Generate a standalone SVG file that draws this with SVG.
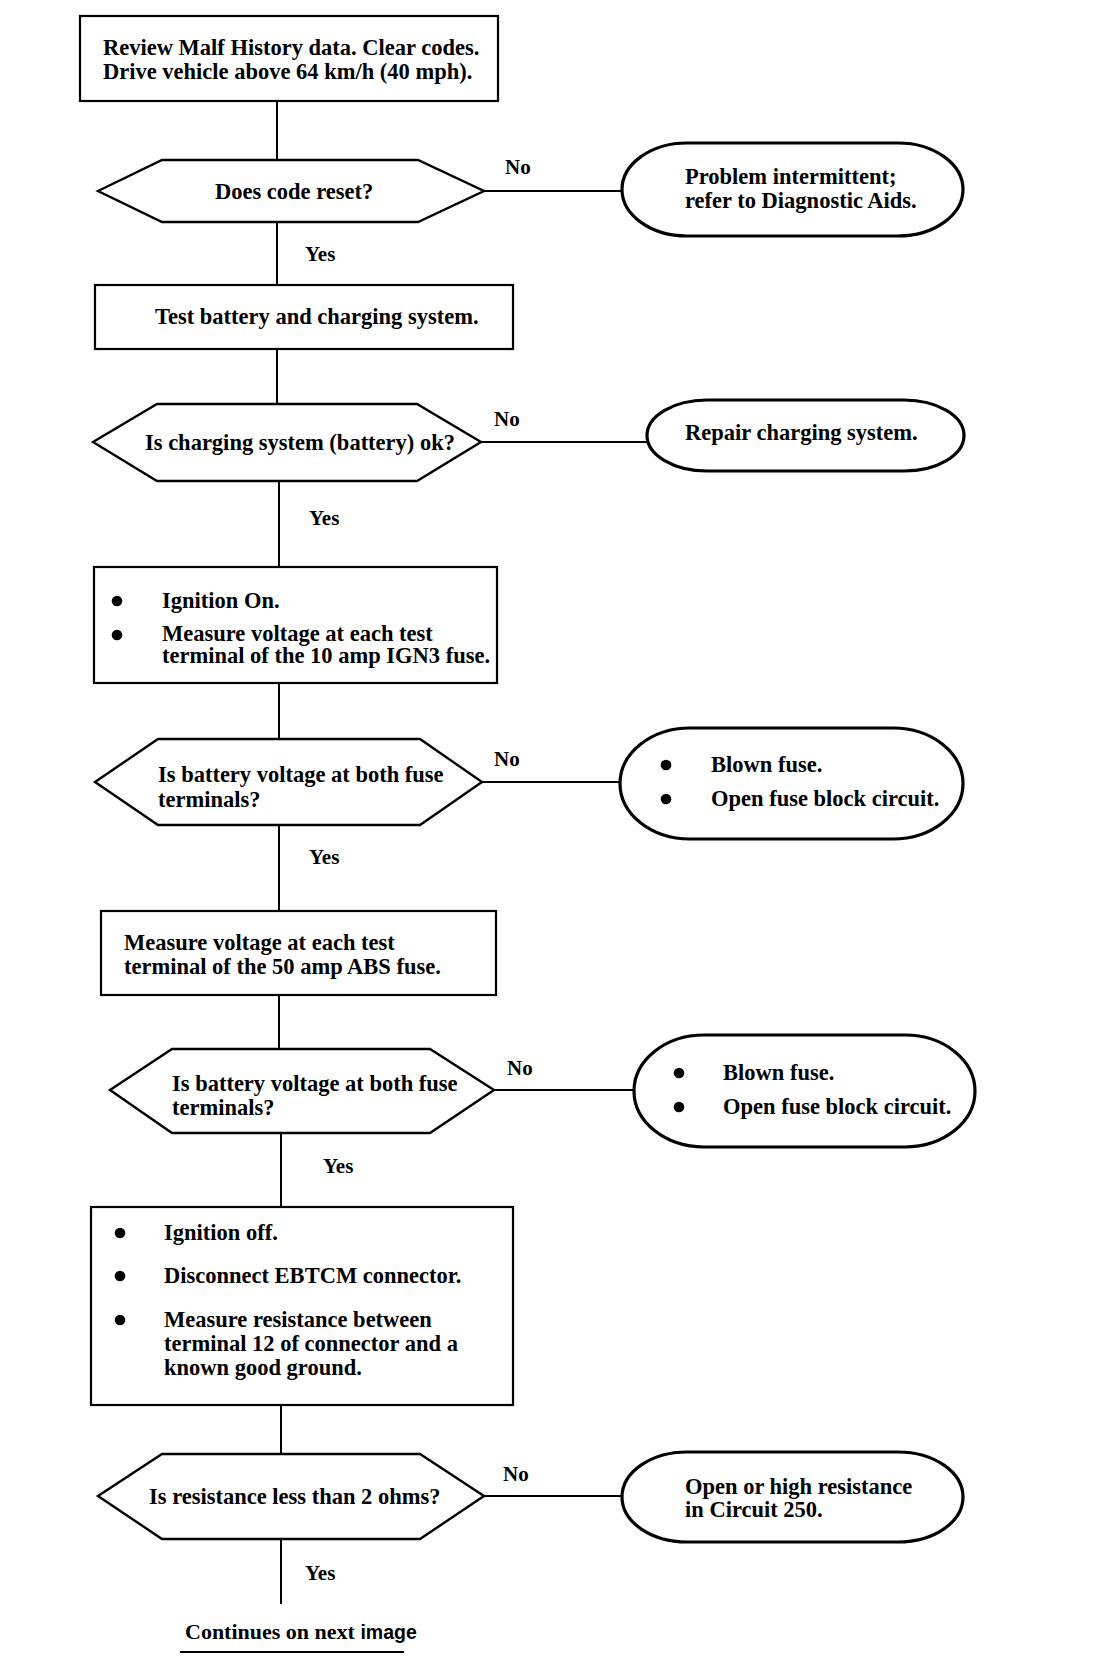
<svg xmlns="http://www.w3.org/2000/svg" width="1120" height="1668" viewBox="0 0 1120 1668">
<style>
  .box{fill:#fff;stroke:#000;stroke-width:2.2}
  .hex{fill:#fff;stroke:#000;stroke-width:2.4;stroke-linejoin:miter}
  .oval{fill:#fff;stroke:#000;stroke-width:3.2}
  .ln{stroke:#000;stroke-width:2;fill:none}
  text{font-family:"Liberation Serif","Times New Roman",serif;font-size:22.5px;font-weight:bold;fill:#000}
  .lbl{font-size:21px}
  .sans{font-family:"Liberation Sans",Arial,sans-serif;font-size:19.5px}
  .dot{fill:#000}
</style>
<rect width="1120" height="1668" fill="#fff"/>
<g id="connectors">
  <line class="ln" x1="277" y1="101" x2="277" y2="160"/>
  <line class="ln" x1="484" y1="191" x2="622" y2="191"/>
  <line class="ln" x1="277" y1="222" x2="277" y2="285"/>
  <line class="ln" x1="277" y1="349" x2="277" y2="404"/>
  <line class="ln" x1="481" y1="442" x2="647" y2="442"/>
  <line class="ln" x1="279" y1="481" x2="279" y2="567"/>
  <line class="ln" x1="279" y1="683" x2="279" y2="739"/>
  <line class="ln" x1="482" y1="782" x2="620" y2="782"/>
  <line class="ln" x1="279" y1="825" x2="279" y2="911"/>
  <line class="ln" x1="279" y1="995" x2="279" y2="1049"/>
  <line class="ln" x1="494" y1="1090" x2="634" y2="1090"/>
  <line class="ln" x1="281" y1="1133" x2="281" y2="1207"/>
  <line class="ln" x1="281" y1="1405" x2="281" y2="1454"/>
  <line class="ln" x1="484" y1="1496" x2="622" y2="1496"/>
  <line class="ln" x1="281" y1="1539" x2="281" y2="1604"/>
  <text class="lbl" x="505" y="174">No</text>
  <text class="lbl" x="305" y="261">Yes</text>
  <text class="lbl" x="494" y="426">No</text>
  <text class="lbl" x="309" y="525">Yes</text>
  <text class="lbl" x="494" y="766">No</text>
  <text class="lbl" x="309" y="864">Yes</text>
  <text class="lbl" x="507" y="1075">No</text>
  <text class="lbl" x="323" y="1173">Yes</text>
  <text class="lbl" x="503" y="1481">No</text>
  <text class="lbl" x="305" y="1580">Yes</text>
</g>
<g id="n1">
  <rect class="box" x="80" y="16" width="418" height="85"/>
  <text x="103" y="55">Review Malf History data. Clear codes.</text>
  <text x="103" y="79">Drive vehicle above 64 km/h (40 mph).</text>
</g>
<g id="d1">
  <polygon class="hex" points="98,191 162,160 418,160 484,191 418,222 162,222"/>
  <text x="215" y="199">Does code reset?</text>
</g>
<g id="t1">
  <rect class="oval" x="622" y="143" width="341" height="93" rx="65" ry="46.5"/>
  <text x="685" y="184">Problem intermittent;</text>
  <text x="685" y="208">refer to Diagnostic Aids.</text>
</g>
<g id="n2">
  <rect class="box" x="95" y="285" width="418" height="64"/>
  <text x="155" y="324">Test battery and charging system.</text>
</g>
<g id="d2">
  <polygon class="hex" points="93,442 157,404 417,404 481,442 417,481 157,481"/>
  <text x="145" y="450">Is charging system (battery) ok?</text>
</g>
<g id="t2">
  <rect class="oval" x="647" y="400" width="317" height="71" rx="60" ry="35.5"/>
  <text x="685" y="440">Repair charging system.</text>
</g>
<g id="n3">
  <rect class="box" x="94" y="567" width="403" height="116"/>
  <circle class="dot" cx="117" cy="601" r="5.3"/>
  <circle class="dot" cx="117" cy="635" r="5.3"/>
  <text x="162" y="608">Ignition On.</text>
  <text x="162" y="641">Measure voltage at each test</text>
  <text x="162" y="663">terminal of the 10 amp IGN3 fuse.</text>
</g>
<g id="d3">
  <polygon class="hex" points="95,782 158,739 420,739 482,782 420,825 158,825"/>
  <text x="158" y="782">Is battery voltage at both fuse</text>
  <text x="158" y="807">terminals?</text>
</g>
<g id="t3">
  <rect class="oval" x="620" y="728" width="343" height="111" rx="70" ry="55.5"/>
  <circle class="dot" cx="666" cy="765" r="5.3"/>
  <circle class="dot" cx="666" cy="799" r="5.3"/>
  <text x="711" y="772">Blown fuse.</text>
  <text x="711" y="806">Open fuse block circuit.</text>
</g>
<g id="n4">
  <rect class="box" x="101" y="911" width="395" height="84"/>
  <text x="124" y="950">Measure voltage at each test</text>
  <text x="124" y="974">terminal of the 50 amp ABS fuse.</text>
</g>
<g id="d4">
  <polygon class="hex" points="110,1090 172,1049 430,1049 494,1090 430,1133 172,1133"/>
  <text x="172" y="1091">Is battery voltage at both fuse</text>
  <text x="172" y="1115">terminals?</text>
</g>
<g id="t4">
  <rect class="oval" x="634" y="1035" width="341" height="112" rx="70" ry="56"/>
  <circle class="dot" cx="679" cy="1073" r="5.3"/>
  <circle class="dot" cx="679" cy="1107" r="5.3"/>
  <text x="723" y="1080">Blown fuse.</text>
  <text x="723" y="1114">Open fuse block circuit.</text>
</g>
<g id="n5">
  <rect class="box" x="91" y="1207" width="422" height="198"/>
  <circle class="dot" cx="120" cy="1233" r="5.3"/>
  <circle class="dot" cx="120" cy="1276" r="5.3"/>
  <circle class="dot" cx="120" cy="1320" r="5.3"/>
  <text x="164" y="1240">Ignition off.</text>
  <text x="164" y="1283">Disconnect EBTCM connector.</text>
  <text x="164" y="1327">Measure resistance between</text>
  <text x="164" y="1351">terminal 12 of connector and a</text>
  <text x="164" y="1375">known good ground.</text>
</g>
<g id="d5">
  <polygon class="hex" points="98,1496 162,1454 420,1454 484,1496 420,1539 162,1539"/>
  <text x="149" y="1504">Is resistance less than 2 ohms?</text>
</g>
<g id="t5">
  <rect class="oval" x="622" y="1452" width="341" height="90" rx="65" ry="45"/>
  <text x="685" y="1494">Open or high resistance</text>
  <text x="685" y="1517">in Circuit 250.</text>
</g>
<g id="footer">
  <text x="185" y="1639" style="font-size:22px">Continues on next <tspan class="sans">image</tspan></text>
  <line class="ln" x1="180" y1="1652" x2="404" y2="1652"/>
</g>
</svg>
